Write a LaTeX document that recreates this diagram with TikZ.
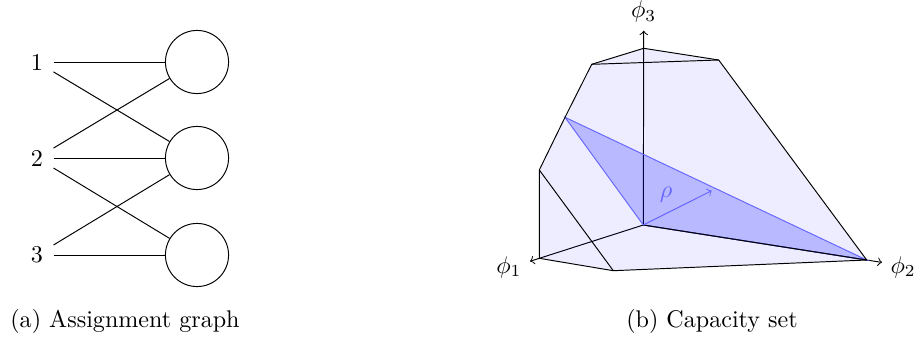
\documentclass[tikz,border=0pt]{standalone}
\usetikzlibrary{positioning}

\begin{document}
\begin{tikzpicture}[x=0.415pt, y=-0.415pt,
    port/.style={inner sep=4.15pt},
    server/.style={circle, draw, minimum size=26.2pt},
    face/.style={fill=blue, fill opacity=0.07},
    slice/.style={fill=blue, fill opacity=0.22, draw=blue!60}]
    \useasboundingbox (0,0) rectangle (922,337);

    % Assignment graph
    \node[port] (l1) at (37,62) {1};
    \node[port] (l2) at (37,158) {2};
    \node[port] (l3) at (37,255) {3};
    \node[server] (s1) at (197,62) {};
    \node[server] (s2) at (197,158) {};
    \node[server] (s3) at (197,255) {};
    \draw (l1) -- (s1);
    \draw (l1) -- (s2);
    \draw (l2) -- (s1);
    \draw (l2) -- (s2);
    \draw (l2) -- (s3);
    \draw (l3) -- (s2);
    \draw (l3) -- (s3);
    \node[anchor=base] (capa) at (125,327) {(a) Assignment graph};

    % Capacity set
    \coordinate (O) at (643.3,225);
    \coordinate (A) at (643.7,48.3);
    \coordinate (B) at (591.7,64.3);
    \coordinate (C) at (718.7,60);
    \coordinate (D) at (565,117.3);
    \coordinate (E) at (539.3,170);
    \coordinate (F) at (539.3,258.3);
    \coordinate (G) at (613.3,270.7);
    \coordinate (H) at (866.7,260);
    \coordinate (x1) at (530,261.3);
    \coordinate (x2) at (882,262.4);
    \coordinate (x3) at (643.7,30.7);
    \coordinate (r) at (711.7,190.7);

    % Axes
    \draw[->] (O) -- (x1) node[left, yshift=-2.5pt] (phi1) {$\phi_1$};
    \draw[->] (O) -- (x2) node[right, yshift=-2pt] (phi2) {$\phi_2$};
    \draw[->] (O) -- (x3) node[above] (phi3) {$\phi_3$};

    % Faces
    \fill[face] (A) -- (B) -- (D) -- (E) -- (F) -- (G) -- (H) -- (C) -- cycle;
    \path[slice] (D) -- (O) -- (H) -- cycle;
    \draw (A) -- (B) -- (D) -- (E) -- (F) -- (G) -- (H) -- (C) -- cycle;
    \draw (B) -- (C);
    \draw (E) -- (G);
    \draw (O) -- (H);
    \draw[->, blue!60] (O) -- (r) node[midway, above left, inner sep=2pt] (rho) {$\rho$};
    \node[anchor=base] (capb) at (712,327) {(b) Capacity set};
\end{tikzpicture}
\end{document}
